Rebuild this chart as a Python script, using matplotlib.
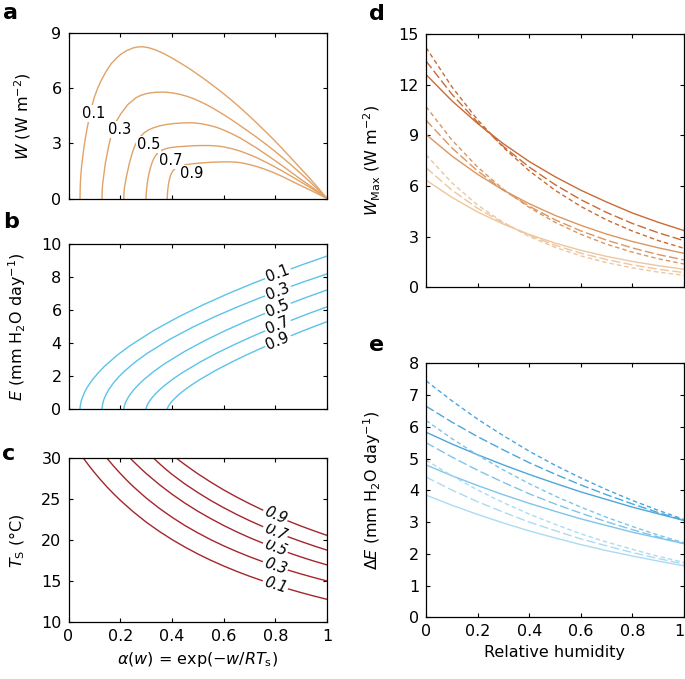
import numpy as np
import matplotlib
matplotlib.use("Agg")
import matplotlib.pyplot as plt

plt.rcParams['font.family'] = ['DejaVu Sans']
plt.rcParams['mathtext.fontset'] = 'dejavusans'

# ---------------- data ----------------
rh_labels = ["0.1", "0.3", "0.5", "0.7", "0.9"]

# panel a : W vs alpha (one list per label)
a_x = [
    [0.0445, 0.0455, 0.047, 0.049, 0.052, 0.058, 0.064, 0.072, 0.081, 0.090, 0.100, 0.113, 0.126, 0.145, 0.164, 0.183, 0.203,
     0.225, 0.248, 0.267, 0.287, 0.310, 0.339, 0.370, 0.403, 0.436, 0.470, 0.500, 0.535, 0.567, 0.599, 0.632, 0.664,
     0.696, 0.728, 0.760, 0.793, 0.825, 0.857, 0.893, 0.930, 0.965, 1.0],
    [0.1296, 0.1302, 0.1315, 0.1348, 0.1425, 0.155, 0.163, 0.171, 0.185, 0.203, 0.229, 0.261, 0.280, 0.300, 0.320, 0.340,
     0.360, 0.377, 0.403, 0.429, 0.455, 0.480, 0.505, 0.530, 0.560, 0.599, 0.632, 0.664, 0.696, 0.728, 0.760, 0.793,
     0.825, 0.857, 0.893, 0.930, 0.965, 1.0],
    [0.214, 0.2146, 0.216, 0.219, 0.2225, 0.228, 0.2353, 0.244, 0.2547, 0.265, 0.278, 0.2934, 0.310, 0.3256, 0.350, 0.377,
     0.410, 0.4417, 0.470, 0.495, 0.520, 0.550, 0.575, 0.599, 0.632, 0.664, 0.696, 0.728, 0.760, 0.793, 0.825, 0.857,
     0.893, 0.930, 0.965, 1.0],
    [0.300, 0.3006, 0.302, 0.3043, 0.3075, 0.312, 0.3175, 0.3245, 0.333, 0.343, 0.355, 0.370, 0.390, 0.420, 0.470, 0.510,
     0.547, 0.575, 0.599, 0.632, 0.664, 0.696, 0.728, 0.760, 0.793, 0.825, 0.857, 0.893, 0.930, 0.965, 1.0],
    [0.382, 0.3825, 0.3837, 0.3855, 0.388, 0.3915, 0.396, 0.402, 0.410, 0.420, 0.435, 0.455, 0.480, 0.510, 0.550, 0.590,
     0.620, 0.645, 0.670, 0.696, 0.728, 0.760, 0.793, 0.825, 0.857, 0.893, 0.930, 0.965, 1.0],
]
a_y = [
    [0, 0.70, 1.11, 1.49, 1.92, 2.60, 3.17, 3.82, 4.43, 5.00, 5.51, 6.00, 6.41, 6.90, 7.31, 7.60, 7.85,
     8.04, 8.18, 8.24, 8.25, 8.20, 8.07, 7.87, 7.62, 7.34, 7.04, 6.75, 6.40, 6.06, 5.71, 5.33, 4.94,
     4.53, 4.11, 3.67, 3.21, 2.74, 2.26, 1.71, 1.15, 0.59, 0],
    [0, 0.35, 0.70, 1.08, 1.92, 2.82, 3.30, 3.72, 4.20, 4.62, 5.10, 5.48, 5.61, 5.70, 5.75, 5.78,
     5.785, 5.78, 5.74, 5.67, 5.57, 5.45, 5.30, 5.13, 4.90, 4.57, 4.27, 3.96, 3.65, 3.33, 2.99, 2.63,
     2.26, 1.88, 1.43, 0.96, 0.49, 0],
    [0, 0.30, 0.55, 0.80, 1.06, 1.44, 1.90, 2.35, 2.80, 3.10, 3.37, 3.58, 3.73, 3.83, 3.94, 4.02,
     4.08, 4.11, 4.12, 4.10, 4.05, 3.96, 3.86, 3.73, 3.52, 3.29, 3.02, 2.74, 2.44, 2.12, 1.80, 1.47,
     1.10, 0.74, 0.38, 0],
    [0, 0.25, 0.50, 0.78, 1.08, 1.40, 1.70, 2.00, 2.25, 2.44, 2.58, 2.68, 2.76, 2.81, 2.86, 2.88,
     2.88, 2.855, 2.81, 2.71, 2.58, 2.41, 2.22, 2.00, 1.76, 1.51, 1.25, 0.95, 0.64, 0.33, 0],
    [0, 0.20, 0.42, 0.65, 0.88, 1.10, 1.30, 1.47, 1.60, 1.70, 1.78, 1.84, 1.89, 1.93, 1.97, 1.99,
     1.995, 1.98, 1.94, 1.86, 1.74, 1.59, 1.41, 1.21, 0.99, 0.74, 0.49, 0.25, 0],
]
a_label_pos = [(0.097, 4.64), (0.199, 3.75), (0.309, 2.94), (0.397, 2.08), (0.476, 1.36)]

# panel b : E vs alpha
b_x = [
    [0.0445, 0.0455, 0.0493, 0.0541, 0.0636, 0.0732, 0.0923, 0.1162, 0.1401, 0.1878, 0.2356, 0.3312, 0.4267, 0.5223,
     0.6178, 0.7134, 0.8089, 0.9045, 1.0],
    [0.1296, 0.1305, 0.1340, 0.1383, 0.1470, 0.1557, 0.1731, 0.1949, 0.2166, 0.2602, 0.3037, 0.3907, 0.4778, 0.5648,
     0.6518, 0.7389, 0.8259, 0.9130, 1.0],
    [0.214, 0.2148, 0.2179, 0.2219, 0.2297, 0.2376, 0.2533, 0.2730, 0.2926, 0.3319, 0.3712, 0.4498, 0.5284, 0.6070,
     0.6856, 0.7642, 0.8428, 0.9214, 1.0],
    [0.300, 0.3007, 0.3035, 0.3070, 0.314, 0.321, 0.335, 0.3525, 0.370, 0.405, 0.440, 0.510, 0.580, 0.650,
     0.720, 0.790, 0.860, 0.930, 1.0],
    [0.382, 0.3826, 0.3851, 0.3882, 0.3944, 0.4005, 0.4129, 0.4284, 0.4438, 0.4747, 0.5056, 0.5674, 0.6292, 0.6910,
     0.7528, 0.8146, 0.8764, 0.9382, 1.0],
]
b_y = [
    [0, 0.208, 0.503, 0.736, 1.078, 1.347, 1.784, 2.230, 2.612, 3.266, 3.826, 4.781, 5.600, 6.332,
     6.999, 7.620, 8.197, 8.748, 9.27],
    [0, 0.183, 0.445, 0.650, 0.952, 1.190, 1.576, 1.971, 2.308, 2.885, 3.380, 4.224, 4.948, 5.595,
     6.183, 6.732, 7.242, 7.729, 8.19],
    [0, 0.114, 0.300, 0.456, 0.690, 0.881, 1.196, 1.526, 1.814, 2.313, 2.751, 3.506, 4.166, 4.764,
     5.312, 5.829, 6.315, 6.779, 7.22],
    [0, 0.074, 0.209, 0.326, 0.507, 0.657, 0.911, 1.182, 1.420, 1.841, 2.213, 2.868, 3.450, 3.977,
     4.471, 4.936, 5.374, 5.798, 6.20],
    [0, 0.048, 0.144, 0.232, 0.370, 0.488, 0.691, 0.911, 1.107, 1.459, 1.775, 2.337, 2.842, 3.309,
     3.746, 4.157, 4.553, 4.936, 5.30],
]

# panel c : Ts vs alpha
c_x = [
    [0.058, 0.08, 0.10, 0.125, 0.15, 0.175, 0.2, 0.25, 0.3, 0.35, 0.4, 0.45, 0.5, 0.55, 0.6, 0.65, 0.7, 0.75, 0.8, 0.85, 0.9, 0.95, 1.0],
    [0.149, 0.175, 0.2, 0.225, 0.25, 0.3, 0.35, 0.4, 0.45, 0.5, 0.55, 0.6, 0.65, 0.7, 0.75, 0.8, 0.85, 0.9, 0.95, 1.0],
    [0.239, 0.26, 0.28, 0.3, 0.35, 0.4, 0.45, 0.5, 0.55, 0.6, 0.65, 0.7, 0.75, 0.8, 0.85, 0.9, 0.95, 1.0],
    [0.33, 0.35, 0.375, 0.4, 0.45, 0.5, 0.55, 0.6, 0.65, 0.7, 0.75, 0.8, 0.85, 0.9, 0.95, 1.0],
    [0.418, 0.44, 0.47, 0.5, 0.55, 0.6, 0.65, 0.7, 0.75, 0.8, 0.85, 0.9, 0.95, 1.0],
]
c_y = [
    [30.0, 29.07, 28.28, 27.35, 26.47, 25.66, 24.89, 23.49, 22.23, 21.11, 20.10, 19.18, 18.34, 17.57, 16.87, 16.22, 15.62, 15.07, 14.55, 14.07, 13.62, 13.20, 12.80],
    [30.0, 29.03, 28.16, 27.34, 26.57, 25.17, 23.93, 22.82, 21.81, 20.91, 20.08, 19.33, 18.64, 18.00, 17.41, 16.87, 16.36, 15.89, 15.45, 15.04],
    [30.0, 29.34, 28.74, 28.16, 26.83, 25.63, 24.54, 23.55, 22.65, 21.81, 21.04, 20.33, 19.68, 19.07, 18.50, 17.96, 17.46, 17.00],
    [30.0, 29.40, 28.70, 28.05, 26.88, 25.83, 24.86, 23.98, 23.16, 22.40, 21.70, 21.04, 20.42, 19.85, 19.31, 18.80],
    [30.0, 29.47, 28.78, 28.12, 27.10, 26.15, 25.28, 24.47, 23.71, 23.01, 22.35, 21.73, 21.15, 20.60],
]

# panels d, e : vs relative humidity
rh = [0.0, 0.1, 0.2, 0.3, 0.4, 0.5, 0.6, 0.7, 0.8, 0.9, 1.0]
d_series = {
    ("dark", "solid"): [12.6, 11.05, 9.70, 8.50, 7.45, 6.55, 5.75, 5.05, 4.40, 3.85, 3.36],
    ("dark", "long"):  [13.4, 11.44, 9.77, 8.34, 7.12, 6.08, 5.19, 4.43, 3.78, 3.23, 2.76],
    ("dark", "short"): [14.2, 11.88, 9.92, 8.28, 6.90, 5.75, 4.79, 3.99, 3.33, 2.77, 2.31],
    ("mid", "solid"):  [9.05, 7.78, 6.69, 5.75, 4.95, 4.26, 3.67, 3.15, 2.71, 2.34, 2.01],
    ("mid", "long"):   [9.90, 8.26, 6.89, 5.75, 4.80, 4.00, 3.34, 2.79, 2.33, 1.94, 1.62],
    ("mid", "short"):  [10.7, 8.73, 7.12, 5.80, 4.73, 3.85, 3.14, 2.55, 2.08, 1.69, 1.38],
    ("light", "solid"): [6.35, 5.33, 4.46, 3.74, 3.13, 2.62, 2.19, 1.83, 1.53, 1.28, 1.07],
    ("light", "long"):  [7.08, 5.76, 4.68, 3.80, 3.08, 2.49, 2.02, 1.64, 1.33, 1.07, 0.87],
    ("light", "short"): [7.85, 6.19, 4.87, 3.84, 3.01, 2.37, 1.86, 1.46, 1.15, 0.90, 0.71],
}
e_series = {
    ("dark", "solid"): [5.83, 5.46, 5.12, 4.80, 4.50, 4.22, 3.95, 3.71, 3.47, 3.26, 3.05],
    ("dark", "long"):  [6.65, 6.15, 5.69, 5.27, 4.87, 4.51, 4.17, 3.86, 3.57, 3.30, 3.05],
    ("dark", "short"): [7.45, 6.82, 6.24, 5.72, 5.23, 4.79, 4.39, 4.02, 3.68, 3.37, 3.08],
    ("mid", "solid"):  [4.80, 4.46, 4.15, 3.86, 3.59, 3.34, 3.10, 2.89, 2.68, 2.50, 2.32],
    ("mid", "long"):   [5.50, 5.05, 4.63, 4.25, 3.89, 3.57, 3.28, 3.01, 2.76, 2.53, 2.32],
    ("mid", "short"):  [6.20, 5.63, 5.11, 4.64, 4.21, 3.82, 3.47, 3.15, 2.86, 2.59, 2.35],
    ("light", "solid"): [3.85, 3.53, 3.24, 2.97, 2.72, 2.50, 2.29, 2.10, 1.93, 1.77, 1.62],
    ("light", "long"):  [4.42, 4.01, 3.64, 3.31, 3.00, 2.73, 2.47, 2.25, 2.04, 1.85, 1.68],
    ("light", "short"): [4.95, 4.46, 4.01, 3.61, 3.25, 2.93, 2.63, 2.37, 2.14, 1.92, 1.73],
}

# ---------------- style ----------------
col_a = "#E0A266"
col_b = "#5BC3EA"
col_c = "#A3262E"
d_cols = {"dark": "#C96B36", "mid": "#DB9660", "light": "#EEC69F"}
e_cols = {"dark": "#4CA7DB", "mid": "#80C4E9", "light": "#ABDBF2"}
dash = {"solid": "-", "long": (0, (6.5, 2.4)), "short": (0, (3.2, 2.2))}
FS = 11.5

fig = plt.figure(figsize=(6.85, 6.79), dpi=100)

def px_axes(left, top, right, bottom):
    W, H = 685.0, 679.0
    return fig.add_axes([left / W, 1 - bottom / H, (right - left) / W, (bottom - top) / H])

def style(ax):
    ax.tick_params(direction='in', top=True, right=True, length=3, width=0.8,
                   labelsize=FS, pad=5)
    for s in ax.spines.values():
        s.set_linewidth(0.9)

def angle_at(ax, xs, ys, x0, dx=0.03):
    y1 = np.interp(x0 - dx, xs, ys)
    y2 = np.interp(x0 + dx, xs, ys)
    p1 = ax.transData.transform((x0 - dx, y1))
    p2 = ax.transData.transform((x0 + dx, y2))
    return np.degrees(np.arctan2(p2[1] - p1[1], p2[0] - p1[0]))

xt = [0, 0.2, 0.4, 0.6, 0.8, 1.0]
xtl = ["0", "0.2", "0.4", "0.6", "0.8", "1"]

# ---- panel a ----
ax = px_axes(68.5, 33, 327, 198.5)
for xs, ys in zip(a_x, a_y):
    ax.plot(xs, ys, color=col_a, lw=1.0)
ax.set_xlim(0, 1); ax.set_ylim(0, 9)
ax.set_xticks(xt); ax.set_xticklabels([])
ax.set_yticks([0, 3, 6, 9])
for lab, (lx, ly) in zip(rh_labels, a_label_pos):
    ax.text(lx, ly, lab, fontsize=10.5, ha='center', va='center',
            bbox=dict(facecolor='white', edgecolor='none', pad=0.6))
ax.set_ylabel(r"$W$ (W m$^{-2}$)", fontsize=FS)
ax.yaxis.set_label_coords(-0.137, 0.5)
style(ax)

# ---- panel b ----
ax = px_axes(68.5, 244, 327, 409.3)
ax.set_xlim(0, 1); ax.set_ylim(0, 10)
for xs, ys, lab in zip(b_x, b_y, rh_labels):
    ax.plot(xs, ys, color=col_b, lw=1.0)
    lx = 0.81
    ly = np.interp(lx, xs, ys)
    ang = angle_at(ax, xs, ys, lx)
    ax.text(lx, ly, lab, fontsize=11, ha='center', va='center', rotation=ang,
            rotation_mode='anchor',
            bbox=dict(facecolor='white', edgecolor='none', pad=1.2))
ax.set_xticks(xt); ax.set_xticklabels([])
ax.set_yticks([0, 2, 4, 6, 8, 10])
ax.set_ylabel(r"$E$ (mm H$_2$O day$^{-1}$)", fontsize=FS)
ax.yaxis.set_label_coords(-0.157, 0.5)
style(ax)

# ---- panel c ----
ax = px_axes(68.5, 458.3, 327, 622.3)
ax.set_xlim(0, 1); ax.set_ylim(10, 30)
for xs, ys, lab in zip(c_x, c_y, rh_labels):
    ax.plot(xs, ys, color=col_c, lw=1.0)
    lx = 0.80
    ly = np.interp(lx, xs, ys)
    ang = angle_at(ax, xs, ys, lx)
    ax.text(lx, ly, lab, fontsize=10.5, ha='center', va='center', rotation=ang,
            rotation_mode='anchor', style='italic',
            bbox=dict(facecolor='white', edgecolor='none', pad=1.2))
ax.set_xticks(xt); ax.set_xticklabels(xtl)
ax.set_yticks([10, 15, 20, 25, 30])
ax.set_ylabel(r"$T_\mathrm{S}$ (°C)", fontsize=FS)
ax.yaxis.set_label_coords(-0.161, 0.5)
ax.set_xlabel(r"$\alpha(w)$ = exp($-w/RT_\mathrm{s}$)", fontsize=FS)
ax.xaxis.set_label_coords(0.5, -0.17)
style(ax)

# ---- panel d ----
ax = px_axes(426, 34, 684, 287.3)
for (shade, ls), ys in d_series.items():
    ax.plot(rh, ys, color=d_cols[shade], lw=1.0, linestyle=dash[ls])
ax.set_xlim(0, 1); ax.set_ylim(0, 15)
ax.set_xticks(xt); ax.set_xticklabels([])
ax.set_yticks([0, 3, 6, 9, 12, 15])
ax.set_ylabel(r"$W_\mathrm{Max}$ (W m$^{-2}$)", fontsize=FS)
ax.yaxis.set_label_coords(-0.167, 0.5)
style(ax)

# ---- panel e ----
ax = px_axes(426, 363.3, 684, 617.3)
for (shade, ls), ys in e_series.items():
    ax.plot(rh, ys, color=e_cols[shade], lw=1.0, linestyle=dash[ls])
ax.set_xlim(0, 1); ax.set_ylim(0, 8)
ax.set_xticks(xt); ax.set_xticklabels(xtl)
ax.get_xticklabels()[-1].set_horizontalalignment('right')
ax.set_yticks(range(0, 9))
ax.set_ylabel(r"$\Delta E$ (mm H$_2$O day$^{-1}$)", fontsize=FS)
ax.yaxis.set_label_coords(-0.167, 0.5)
ax.set_xlabel("Relative humidity", fontsize=FS)
ax.xaxis.set_label_coords(0.5, -0.11)
style(ax)

# panel letters
for lab, x, y in [("a", 3, 3), ("b", 3, 212), ("c", 2, 444), ("d", 369, 4), ("e", 369, 335)]:
    fig.text(x / 685, 1 - y / 679, lab, fontsize=16, fontweight='bold', ha='left', va='top')

fig.savefig("out.png", dpi=100)
